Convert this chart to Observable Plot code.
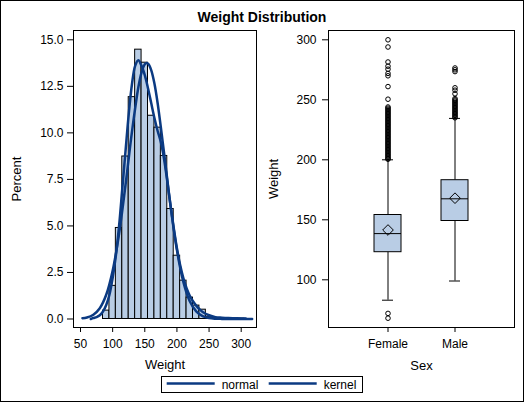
<!DOCTYPE html>
<html><head><meta charset="utf-8">
<script src="https://cdn.jsdelivr.net/npm/d3@7"></script>
<script src="https://cdn.jsdelivr.net/npm/@observablehq/plot@0.6"></script>
<style>
body{margin:0;background:#fff;}
#chart{position:relative;width:524px;height:402px;font-family:"Liberation Sans",Arial,sans-serif;background:#fff;overflow:hidden;}
#border{position:absolute;left:0;top:0;width:524px;height:402px;box-sizing:border-box;border:1px solid #000;pointer-events:none;}
#title{position:absolute;left:0;top:8.5px;width:524px;text-align:center;font-weight:bold;font-size:14px;line-height:16px;color:#000;}
.panel{position:absolute;top:0;}
#legend{position:absolute;left:161px;top:376px;}
</style></head><body>
<div id="chart">
  <div id="title">Weight Distribution</div>
  <div id="left" class="panel" style="left:0"></div>
  <div id="right" class="panel" style="left:262px"></div>
  <svg id="legend" width="203" height="17"></svg>
  <div id="border"></div>
</div>
<script>
// ---- Data ----
const binWidth = 10;
const binMids = [90, 100, 110, 120, 130, 140, 150, 160, 170, 180, 190, 200, 210, 220, 230, 240, 250, 260, 270, 280, 290, 300];
const binPercent = [0.45, 1.78, 4.89, 8.73, 11.92, 14.47, 13.77, 10.92, 10.28, 8.76, 5.91, 3.40, 2.06, 1.15, 0.72, 0.50, 0.12, 0.05, 0.04, 0.03, 0.01, 0.02];

const normalX = [53, 60, 70, 80, 90, 100, 110, 120, 130, 140, 145, 150, 153, 156, 160, 165, 170, 180, 190, 200, 210, 220, 230, 240, 250, 260, 270, 280, 300, 317];
const normalPct = [0.04, 0.08, 0.23, 0.58, 1.30, 2.59, 4.58, 7.20, 10.04, 12.45, 13.25, 13.69, 13.76, 13.69, 13.37, 12.65, 11.59, 8.92, 6.10, 3.70, 1.99, 0.95, 0.41, 0.15, 0.05, 0.015, 0.005, 0.0, 0.0, 0.0];

const kernelX = [66, 70, 75, 80, 85, 90, 95, 100, 105, 110, 115, 120, 125, 130, 135, 140, 145, 150, 155, 160, 165, 170, 175, 180, 185, 190, 195, 200, 205, 210, 215, 220, 225, 230, 235, 240, 250, 260, 270, 280, 290, 300, 307];
const kernelPct = [0.0, 0.05, 0.1, 0.2, 0.4, 0.75, 1.3, 2.2, 3.4, 5.0, 7.0, 9.0, 11.0, 12.6, 13.6, 13.9, 13.6, 13.1, 12.4, 11.6, 10.8, 10.1, 9.5, 8.6, 7.4, 6.1, 4.9, 3.8, 2.9, 2.2, 1.65, 1.25, 0.95, 0.72, 0.53, 0.38, 0.2, 0.1, 0.07, 0.05, 0.04, 0.03, 0.02];

const histXTicks = [50, 100, 150, 200, 250, 300];
const histYTicks = [0, 2.5, 5, 7.5, 10, 12.5, 15];

const sexes = ["Female", "Male"];
const boxLow = [83, 99];
const boxQ1 = [123, 149];
const boxMedian = [138.5, 167.5];
const boxQ3 = [154, 183];
const boxHigh = [200, 234.5];
const boxMean = [141.5, 168];
const femaleOutliers = [300, 294, 281.5, 278, 275.5, 272, 270, 261, 250.5, 244, 243, 242, 241, 240, 239, 238, 237, 236, 235, 234, 233, 232, 231, 230, 229, 228, 227, 226, 225, 224, 223, 222, 221, 220, 219, 218, 217, 216, 215, 214, 213, 212, 211, 210, 209, 208, 207, 206, 205, 204, 203, 202, 201, 200.5, 72, 68];
const maleOutliers = [276.5, 275, 273.5, 260, 258, 255, 251, 250, 249, 248, 247, 246, 245, 244, 243, 242, 241, 240, 239, 238, 237, 236, 235];
const boxYTicks = [100, 150, 200, 250, 300];

const seriesNames = ["normal", "kernel"];

// ---- Styles ----
const barFill = "#B9CDE5";
const curveColor = "#0B3A82";
const font = "Liberation Sans, Arial, sans-serif";

// ---- Tables ----
const histRows = binMids.map((m, i) => ({x1: m - binWidth / 2, x2: m + binWidth / 2, pct: binPercent[i]}));
const normalRows = normalX.map((x, i) => ({x, y: normalPct[i]}));
const kernelRows = kernelX.map((x, i) => ({x, y: kernelPct[i]}));
const boxRows = sexes.map((s, i) => ({sex: s, lo: boxLow[i], q1: boxQ1[i], median: boxMedian[i], q3: boxQ3[i], hi: boxHigh[i], mean: boxMean[i]}));
const outlierRows = [
  ...femaleOutliers.map(w => ({sex: "Female", w})),
  ...maleOutliers.map(w => ({sex: "Male", w}))
];

const left = Plot.plot({
  width: 262, height: 402,
  marginLeft: 73, marginRight: 6, marginTop: 30, marginBottom: 75,
  style: {fontFamily: font, fontSize: "12px", background: "transparent", color: "#000"},
  x: {domain: [39.1, 323.8]},
  y: {domain: [-0.457, 15.5]},
  marks: [
    Plot.rectY(histRows, {x1: "x1", x2: "x2", y: "pct", fill: barFill, stroke: "#000", strokeWidth: 1}),
    Plot.line(normalRows, {x: "x", y: "y", stroke: curveColor, strokeWidth: 2.5, curve: "catmull-rom"}),
    Plot.line(kernelRows, {x: "x", y: "y", stroke: curveColor, strokeWidth: 2.5, curve: "catmull-rom"}),
    Plot.frame({stroke: "#000"}),
    Plot.axisX({ticks: histXTicks, tickSize: 5, tickPadding: 7, label: null}),
    Plot.axisY({ticks: histYTicks, tickFormat: d3.format(".1f"), tickSize: 6, tickPadding: 4, label: null}),
    Plot.text(["Weight"], {text: d => d, frameAnchor: "bottom", dy: 37.5, fontSize: 13, textAnchor: "middle", lineAnchor: "middle"}),
    Plot.text(["Percent"], {text: d => d, frameAnchor: "left", dx: -56.5, rotate: -90, fontSize: 13, textAnchor: "middle", lineAnchor: "middle"})
  ]
});
document.getElementById("left").appendChild(left);

const right = Plot.plot({
  width: 262, height: 402,
  marginLeft: 66, marginRight: 10, marginTop: 30, marginBottom: 75,
  style: {fontFamily: font, fontSize: "12px", background: "transparent", color: "#000"},
  x: {type: "band", domain: sexes, paddingInner: 0.6, paddingOuter: 0.676},
  y: {domain: [60.25, 307.75]},
  marks: [
    Plot.ruleX(boxRows, {x: "sex", y1: "lo", y2: "q1", stroke: "#000"}),
    Plot.ruleX(boxRows, {x: "sex", y1: "q3", y2: "hi", stroke: "#000"}),
    Plot.tickY(boxRows, {x: "sex", y: "lo", insetLeft: 8, insetRight: 8, stroke: "#000"}),
    Plot.tickY(boxRows, {x: "sex", y: "hi", insetLeft: 8, insetRight: 8, stroke: "#000"}),
    Plot.barY(boxRows, {x: "sex", y1: "q1", y2: "q3", fill: barFill, stroke: "#000"}),
    Plot.tickY(boxRows, {x: "sex", y: "median", stroke: "#000"}),
    Plot.dot(boxRows, {x: "sex", y: "mean", symbol: "diamond2", r: 4.8, stroke: "#000", fill: "none", strokeWidth: 1}),
    Plot.dot(outlierRows, {x: "sex", y: "w", r: 2.3, stroke: "#000", fill: "none", strokeWidth: 1}),
    Plot.frame({stroke: "#000"}),
    Plot.axisX({tickSize: 5, tickPadding: 7, label: null}),
    Plot.axisY({ticks: boxYTicks, tickSize: 6, tickPadding: 6, label: null}),
    Plot.text(["Sex"], {text: d => d, frameAnchor: "bottom", dy: 38, fontSize: 13, textAnchor: "middle", lineAnchor: "middle"}),
    Plot.text(["Weight"], {text: d => d, frameAnchor: "left", dx: -54.7, rotate: -90, fontSize: 13, textAnchor: "middle", lineAnchor: "middle"})
  ]
});
document.getElementById("right").appendChild(right);

// ---- Legend ----
const leg = d3.select("#legend");
leg.append("rect").attr("x", 0.5).attr("y", 0.5).attr("width", 201).attr("height", 16).attr("fill", "#fff").attr("stroke", "#000");
const entryX = [5.7, 107.7];
seriesNames.forEach((name, i) => {
  leg.append("line").attr("x1", entryX[i]).attr("x2", entryX[i] + 48).attr("y1", 7.5).attr("y2", 7.5)
    .attr("stroke", curveColor).attr("stroke-width", 2.5);
  leg.append("text").attr("x", entryX[i] + 55).attr("y", 12.5).attr("font-size", 12)
    .attr("font-family", font).text(name);
});
</script>
</body></html>
